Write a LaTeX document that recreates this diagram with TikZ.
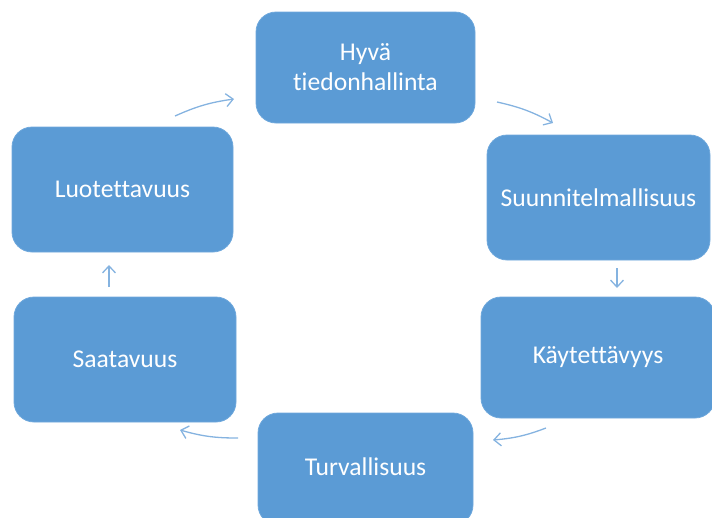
\documentclass[tikz,border=0pt]{standalone}
\usepackage{fontspec}
\setmainfont[Ligatures=NoCommon]{Carlito}
\usetikzlibrary{arrows.meta}
\definecolor{boxblue}{HTML}{5B9BD5}
\definecolor{boxedge}{HTML}{6FA8DC}
\definecolor{arrblue}{HTML}{85B3E0}
\begin{document}
\begin{tikzpicture}[x=1pt,y=-1pt,
  stage/.style={draw=boxedge,line width=0.8pt,fill=boxblue,rounded corners=20pt,
    text=white,font=\fontsize{25.6}{30}\selectfont,align=center,inner sep=0pt},
  flow/.style={draw=arrblue,line width=1.3pt,-{Straight Barb[length=7pt,width=13pt]}}]
\useasboundingbox (0,0) rectangle (712,517);
\begin{scope}
\clip (0,0) rectangle (712,517);
\node[stage,minimum width=219pt,minimum height=111pt] (A) at (365.5,67.5) {Hyvä\\tiedonhallinta};
\node[stage,minimum width=223pt,minimum height=125pt] (B) at (598.5,197.5) {Suunnitelmallisuus};
\node[stage,minimum width=234pt,minimum height=121pt] (C) at (598,357.5) {Käytettävyys};
\node[stage,minimum width=215pt,minimum height=112pt] (D) at (365.5,469) {};
\node[font=\fontsize{25.6}{30}\selectfont,text=white] (Dt) at (365.5,467) {Turvallisuus};
\node[stage,minimum width=222pt,minimum height=125pt] (E) at (125,359.5) {Saatavuus};
\node[stage,minimum width=221pt,minimum height=125pt] (F) at (122.5,189.5) {Luotettavuus};
\end{scope}
\coordinate (f1) at (175,116); \coordinate (a1) at (234,99);
\coordinate (a2) at (497,102); \coordinate (b1) at (553,123);
\coordinate (b2) at (617,268); \coordinate (c1) at (617,288);
\coordinate (c2) at (546,428); \coordinate (d1) at (493,440);
\coordinate (d2) at (238,438); \coordinate (e1) at (180,430);
\coordinate (e2) at (109,287); \coordinate (f2) at (109,265);
\draw[flow] (f1) to[bend left=8] (a1);
\draw[flow] (a2) to[bend left=8] (b1);
\draw[flow] (b2) -- (c1);
\draw[flow] (c2) to[bend left=8] (d1);
\draw[flow] (d2) to[bend left=8] (e1);
\draw[flow] (e2) -- (f2);
\end{tikzpicture}
\end{document}
